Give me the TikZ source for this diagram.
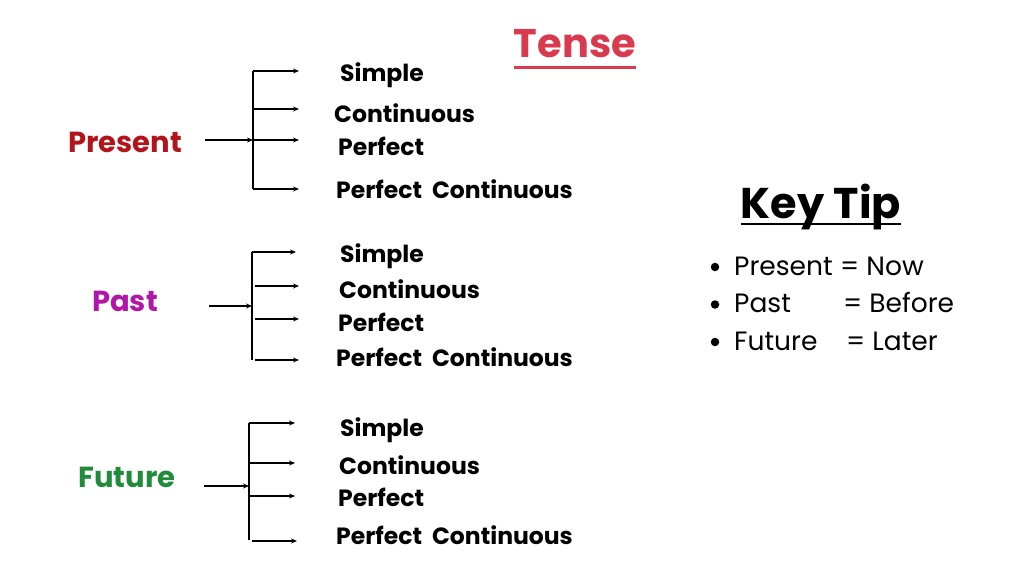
\documentclass[tikz,border=0pt]{standalone}
\usepackage{fontspec}
\setmainfont{Poppins}
\usetikzlibrary{arrows.meta}
\definecolor{tensered}{HTML}{D93A4E}
\definecolor{presred}{HTML}{B3141C}
\definecolor{pastmag}{HTML}{B216A8}
\definecolor{futgreen}{HTML}{1F8B3B}
\tikzset{
  branch/.style={anchor=base west, font=\fontsize{23.5}{28}\selectfont\bfseries, inner sep=0pt},
  tensename/.style={anchor=base, font=\fontsize{29}{34}\selectfont\bfseries, inner sep=0pt},
  conn/.style={line width=1.6pt, -{Stealth[length=6pt,width=5pt]}},
  bus/.style={line width=1.6pt},
  tiptext/.style={anchor=base west, font=\fontsize{26.5}{31}\selectfont, inner sep=0pt},
  bulletdot/.style={circle, fill=black, inner sep=0pt, minimum size=8.5pt},
}
\begin{document}
\begin{tikzpicture}[x=1pt,y=-1pt]
\useasboundingbox[fill=white] (0,0) rectangle (1024,576);

% Title
\node[anchor=base, inner sep=0pt, text=tensered, font=\fontsize{40}{46}\selectfont\bfseries] (title) at (575,57) {Tense};
\draw[tensered, line width=3pt] ([yshift=-10pt]title.base west) -- ([yshift=-10pt]title.base east);

% ---------------- Present ----------------
\node[tensename, text=presred] (present) at (125,152) {Present};
\coordinate (prS) at (205,140);
\coordinate (prJ) at (253,140);
\coordinate (prT) at (253,71);
\coordinate (prB) at (253,189);
\coordinate (pr1) at (299,71);
\coordinate (pr2) at (299,109);
\coordinate (pr3) at (299,140);
\coordinate (pr4) at (299,189);
\node[branch] (prsimple) at (340,81.5) {Simple};
\node[branch] (prcont) at (334,122.5) {Continuous};
\node[branch] (prperf) at (338,155) {Perfect};
\node[branch] (prpc) at (336,198) {Perfect\ \ Continuous};
\draw[conn] (prS) -- (prJ);
\draw[bus] (prT) -- (prB);
\draw[conn] (prT) -- (pr1);
\draw[conn] (prT |- pr2) -- (pr2);
\draw[conn] (prJ) -- (pr3);
\draw[conn] (prB) -- (pr4);

% ---------------- Past ----------------
\node[tensename, text=pastmag] (past) at (125,311) {Past};
\coordinate (paS) at (209,306);
\coordinate (paJ) at (252,306);
\coordinate (paT) at (252,252);
\coordinate (paB) at (252,360);
\coordinate (pa1) at (296,252);
\coordinate (pa2) at (299,286);
\coordinate (pa3) at (299,319);
\coordinate (pa4) at (299,360);
\node[branch] (pasimple) at (340,262) {Simple};
\node[branch] (pacont) at (339,298) {Continuous};
\node[branch] (paperf) at (338,331) {Perfect};
\node[branch] (papc) at (336,366) {Perfect\ \ Continuous};
\draw[conn] (paS) -- (paJ);
\draw[bus] (paT) -- (paB);
\draw[conn] (paT) -- (pa1);
\draw[conn] ([xshift=3pt]paT |- pa2) -- (pa2);
\draw[conn] ([xshift=3pt]paT |- pa3) -- (pa3);
\draw[conn] ([xshift=3pt]paB) -- (pa4);

% ---------------- Future ----------------
\node[tensename, text=futgreen] (future) at (127,487) {Future};
\coordinate (fuS) at (204,486);
\coordinate (fuJ) at (249,486);
\coordinate (fuT) at (249,423);
\coordinate (fuB) at (249,540);
\coordinate (fu1) at (295,423);
\coordinate (fu2) at (295,463);
\coordinate (fu3) at (295,496);
\coordinate (fu4) at (297,541);
\node[branch] (fusimple) at (340,436) {Simple};
\node[branch] (fucont) at (339,474) {Continuous};
\node[branch] (fuperf) at (338,506) {Perfect};
\node[branch] (fupc) at (336,544) {Perfect\ \ Continuous};
\draw[conn] (fuS) -- (fuJ);
\draw[bus] (fuT) -- (fuB);
\draw[conn] (fuT) -- (fu1);
\draw[conn] (fuT |- fu2) -- (fu2);
\draw[conn] (fuT |- fu3) -- (fu3);
\draw[conn] ([xshift=3pt]fuB |- fu4) -- (fu4);

% ---------------- Key Tip ----------------
\node[anchor=base, inner sep=0pt, font=\fontsize{43}{50}\selectfont\bfseries] (keytip) at (821,218) {Key Tip};
\draw[line width=2.8pt] ([yshift=-6pt]keytip.base west) -- ([yshift=-6pt]keytip.base east);

\node[bulletdot] (b1) at (715,267) {};
\node[tiptext] (t1) at (734,275) {Present};
\node[tiptext] (e1) at (840,275) {= Now};
\node[bulletdot] (b2) at (715,304.5) {};
\node[tiptext] (t2) at (734,312.5) {Past};
\node[tiptext] (e2) at (843,312.5) {= Before};
\node[bulletdot] (b3) at (715,342) {};
\node[tiptext] (t3) at (734,350) {Future};
\node[tiptext] (e3) at (846,350) {= Later};
\end{tikzpicture}
\end{document}
